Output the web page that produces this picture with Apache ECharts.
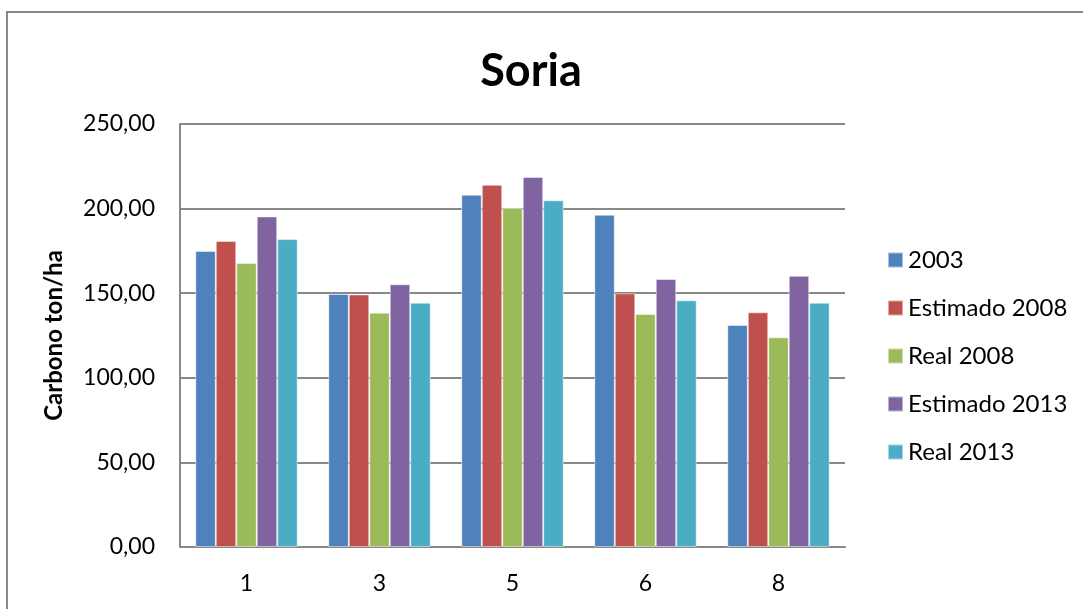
<!DOCTYPE html>
<html>
<head>
<meta charset="utf-8">
<script src="https://cdn.jsdelivr.net/npm/echarts@6/dist/echarts.min.js"></script>
<style>html,body{margin:0;padding:0;background:#fff}#c{width:1083px;height:609px}</style>
</head>
<body>
<div id="c"></div>
<script>
const categories = ['1', '3', '5', '6', '8'];
const seriesNames = ['2003', 'Estimado 2008', 'Real 2008', 'Estimado 2013', 'Real 2013'];
const s2003 = [175.0, 149.6, 208.2, 196.4, 131.2];
const estimado2008 = [180.9, 149.3, 214.1, 149.9, 138.7];
const real2008 = [167.8, 138.5, 200.4, 137.7, 123.9];
const estimado2013 = [195.4, 155.3, 218.7, 158.4, 160.3];
const real2013 = [182.0, 144.4, 204.9, 145.8, 144.4];
const colors = ['#4F81BD', '#C0504D', '#9BBB59', '#8064A2', '#4BACC6'];
const values = [s2003, estimado2008, real2008, estimado2013, real2013];

const font = 'Lato, "Open Sans", sans-serif';
const chart = echarts.init(document.getElementById('c'), null, {renderer: 'canvas'});
chart.setOption({
  animation: false,
  color: colors,
  title: {
    text: 'Soria', left: 531, top: 49, textAlign: 'center', padding: 0,
    textStyle: {fontFamily: font, fontWeight: 'bold', fontSize: 45, color: '#000'}
  },
  graphic: [{
    type: 'rect', shape: {x: 7, y: 12, width: 1100, height: 620},
    style: {fill: 'none', stroke: '#888', lineWidth: 2}, silent: true
  }],
  legend: {
    orient: 'vertical', left: 887, top: 248, padding: 0,
    itemWidth: 15, itemHeight: 15, itemGap: 24, icon: 'rect',
    textStyle: {fontFamily: font, fontSize: 24, color: '#000', lineHeight: 24},
    data: seriesNames
  },
  grid: {left: 180, top: 124, right: 238, bottom: 62, show: true, borderColor: '#888', borderWidth: 0},
  xAxis: {
    type: 'category', data: categories,
    axisLine: {lineStyle: {color: '#888', width: 2}},
    axisTick: {show: false},
    axisLabel: {fontFamily: font, fontSize: 23, color: '#000', margin: 25}
  },
  yAxis: {
    type: 'value', min: 0, max: 250, interval: 50,
    name: 'Carbono ton/ha', nameLocation: 'middle', nameGap: 114, nameRotate: 90,
    nameTextStyle: {fontFamily: font, fontWeight: 'bold', fontSize: 24, color: '#000'},
    axisLine: {show: true, lineStyle: {color: '#888', width: 2}},
    axisTick: {show: false},
    splitLine: {lineStyle: {color: '#888', width: 2}},
    axisLabel: {fontFamily: font, fontSize: 23, color: '#000', margin: 25,
      formatter: v => v.toFixed(2).replace('.', ',')}
  },
  series: seriesNames.map((n, i) => ({
    name: n, type: 'bar', data: values[i],
    barGap: '0%', barCategoryGap: '23%',
    itemStyle: {color: colors[i], borderColor: 'rgba(255,255,255,0.5)', borderWidth: 1}
  }))
});
</script>
</body>
</html>
